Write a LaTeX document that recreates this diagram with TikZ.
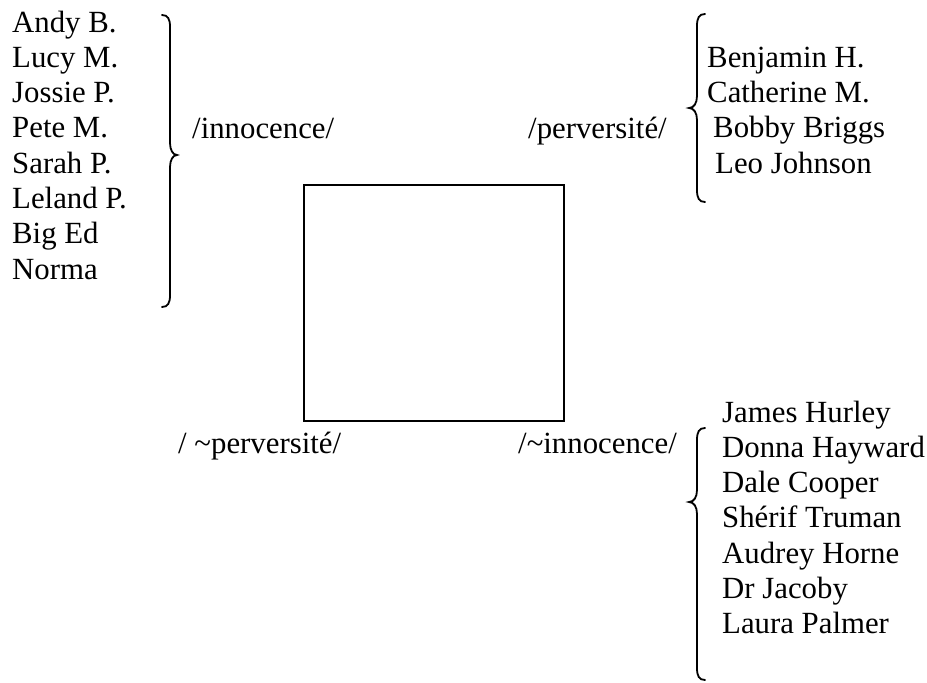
\documentclass[tikz,border=0pt]{standalone}
\usepackage{fontspec}
\setmainfont{Liberation Serif}
\usepackage{tikz}
\usetikzlibrary{positioning}

\tikzset{
	nom/.style={anchor=base west, inner sep=0pt, font=\fontsize{30.8}{35}\selectfont},
	pole/.style={anchor=base west, inner sep=0pt, font=\fontsize{30.8}{35}\selectfont},
	accolade/.style={line width=1.8pt, line cap=round}
}

\begin{document}
\begin{tikzpicture}[x=1pt, y=-1pt]
		\useasboundingbox (0,0) rectangle (927,683);
		%\draw[gray,step=50] (0,0) grid (927,683);
		% le carre
		\node[draw, line width=2pt, minimum width=260pt, minimum height=236pt, inner sep=0pt] (carre) at (434,303) {};
		% les quatre poles
		\node[pole] (inno) at (192,138) {/innocence/};
		\node[pole] (perv) at (528,138) {/perversit\'e/};
		\node[pole] (nperv) at (178,453) {/ \char`\~perversit\'e/};
		\node[pole] (ninno) at (518,453) {/\char`\~innocence/};
		% liste de gauche
		\node[nom] (andy) at (12,32) {Andy B.};
		\node[nom] (lucy) at (12,67.3) {Lucy M.};
		\node[nom] (jossie) at (12,102.6) {Jossie P.};
		\node[nom] (pete) at (12,137.9) {Pete M.};
		\node[nom] (sarah) at (12,173.2) {Sarah P.};
		\node[nom] (leland) at (12,208.5) {Leland P.};
		\node[nom] (biged) at (12,243.8) {Big Ed};
		\node[nom] (norma) at (12,279.1) {Norma};
		\draw[accolade] (162,15) .. controls (168,15) and (170,19) .. (170,27) -- (170,143)
			.. controls (170,150) and (173,155) .. (177,155) .. controls (173,155) and (170,160) .. (170,167)
			-- (170,295) .. controls (170,303) and (168,307) .. (162,307);
		% liste en haut a droite
		\draw[accolade] (705,14) .. controls (699,14) and (697,18) .. (697,26) -- (697,96)
			.. controls (697,103) and (694,108) .. (689,108) .. controls (694,108) and (697,113) .. (697,120)
			-- (697,190) .. controls (697,198) and (699,202) .. (705,202);
		\node[nom] (benjamin) at (707,67) {Benjamin H.};
		\node[nom] (catherine) at (707,102) {Catherine M.};
		\node[nom] (bobby) at (713,137.5) {Bobby Briggs};
		\node[nom] (leo) at (715,173) {Leo Johnson};
		% liste en bas a droite
		\draw[accolade] (705,428) .. controls (699,428) and (697,432) .. (697,440) -- (697,490)
			.. controls (697,497) and (694,502) .. (689,502) .. controls (694,502) and (697,507) .. (697,514)
			-- (697,668) .. controls (697,676) and (699,680) .. (705,680);
		\node[nom] (james) at (722,422) {James Hurley};
		\node[nom] (donna) at (722,457.3) {Donna Hayward};
		\node[nom] (dale) at (722,492.6) {Dale Cooper};
		\node[nom] (truman) at (722,527.9) {Sh\'erif Truman};
		\node[nom] (audrey) at (722,563.2) {Audrey Horne};
		\node[nom] (jacoby) at (722,598.5) {Dr Jacoby};
		\node[nom] (laura) at (722,633.8) {Laura Palmer};
	\end{tikzpicture}
\end{document}
